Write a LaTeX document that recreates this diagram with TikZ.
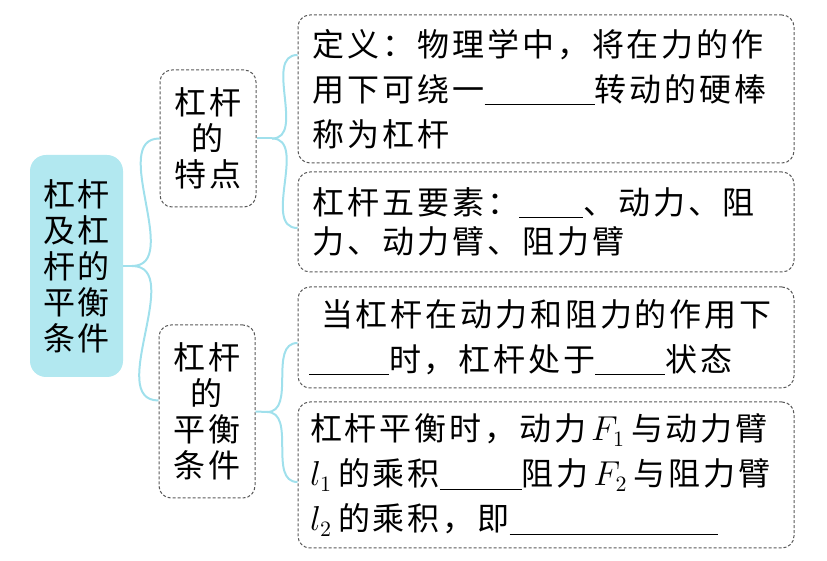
\documentclass[tikz,border=0pt]{standalone}
\usepackage{fontspec}
\usepackage{tikz}
\usetikzlibrary{positioning}
\newfontfamily\cjk{Noto Sans CJK SC}[LetterSpace=9]
\definecolor{rootcyan}{RGB}{178,232,240}
\definecolor{linkcyan}{RGB}{160,224,236}
\newcommand\blank[1]{\rule[-0.12em]{#1}{0.5pt}}

\begin{document}
\begin{tikzpicture}[x=0.5pt,y=-0.5pt,
  every node/.style={font=\cjk\fontsize{16}{22.5}\selectfont},
  rootbox/.style={fill=rootcyan,rounded corners=8pt,minimum width=46.5pt,
    minimum height=111pt,align=center,inner sep=0pt,font=\cjk\fontsize{16}{18}\selectfont},
  branchbox/.style={draw=gray!70!black,dash pattern=on 1.5pt off 1pt,line width=0.5pt,
    rounded corners=6pt,minimum width=48pt,align=center,inner sep=0pt,
    font=\cjk\fontsize{16}{18}\selectfont},
  leafbox/.style={draw=gray!70!black,dash pattern=on 1.5pt off 1pt,line width=0.5pt,
    rounded corners=6pt,minimum width=248pt,text width=233pt,align=left,inner xsep=7.5pt},
  link/.style={draw=linkcyan,line width=1pt}]
  \useasboundingbox (0,0) rectangle (827,561);

  \node[rootbox] (root) at (76.5,266) {杠杆\\及杠\\杆的\\平衡\\条件};
  \node[branchbox,minimum height=68.5pt] (b1) at (208,138.5) {杠杆\\的\\特点};
  \node[branchbox,minimum height=86.5pt] (b2) at (207,411.5) {杠杆\\的\\平衡\\条件};

  \node[leafbox,minimum height=74pt] (l1) at (546,89)
    {定义：物理学中，将在力的作\\用下可绕一\blank{55pt}转动的硬棒\\称为杠杆};
  \node[leafbox,minimum height=50pt,font=\cjk\fontsize{16}{19.5}\selectfont] (l2) at (546,222)
    {杠杆五要素：\blank{32pt}、动力、阻\\力、动力臂、阻力臂};
  \node[leafbox,minimum height=50.5pt,inner xsep=5.5pt,text width=237pt] (l3) at (546,337.5)
    {\hspace*{6pt}当杠杆在动力和阻力的作用下\\\blank{40pt}时，杠杆处于\blank{35pt}状态};
  \node[leafbox,minimum height=73pt,inner xsep=6pt,text width=236pt] (l4) at (546,475)
    {杠杆平衡时，动力\hspace{2.5pt}$F_1$\hspace{3pt}与动力臂\\$l_1$\hspace{3pt}的乘积\blank{41pt}阻力\hspace{2.5pt}$F_2$\hspace{3pt}与阻力臂\\$l_2$\hspace{3pt}的乘积，即\blank{104pt}};

  % connectors
  \coordinate (j0) at (132,266);
  \coordinate (j1) at (272,138.5);
  \coordinate (j2) at (267,412);
  \draw[link] (root.east) -- (j0);
  \draw[link] (j0) to[out=0,in=180] (b1.west);
  \draw[link] (j0) to[out=0,in=180] ([yshift=5.5pt]b2.west);
  \draw[link] (b1.east) -- (j1);
  \draw[link] (j1) to[out=0,in=180] ([yshift=17pt]l1.west);
  \draw[link] (j1) to[out=0,in=180] ([yshift=-3pt]l2.west);
  \draw[link] (b2.east) -- (j2);
  \draw[link] (j2) to[out=0,in=180] ([yshift=-2.75pt]l3.west);
  \draw[link] (j2) to[out=0,in=180] ([yshift=-3.5pt]l4.west);
\end{tikzpicture}
\end{document}
